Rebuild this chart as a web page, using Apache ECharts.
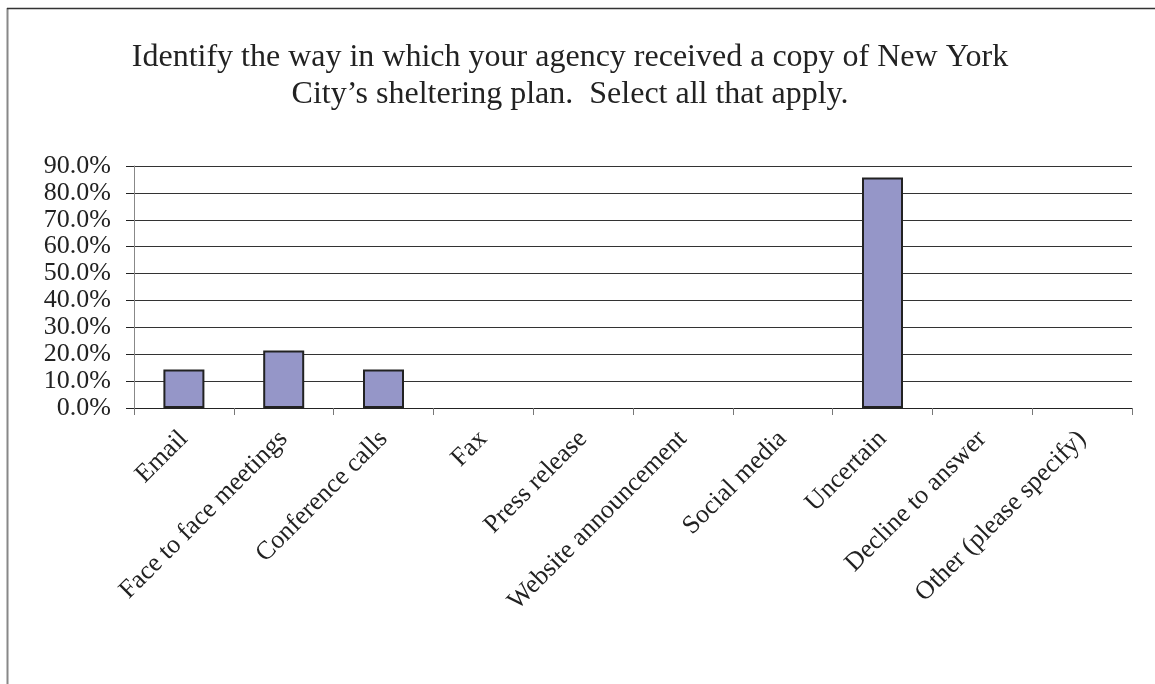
<!DOCTYPE html>
<html>
<head>
<meta charset="utf-8">
<script src="https://cdn.jsdelivr.net/npm/echarts@6/dist/echarts.min.js"></script>
<style>
html,body{margin:0;padding:0;background:#fff;}
#chart{width:1155px;height:684px;}
</style>
</head>
<body>
<div id="chart"></div>
<script>
const titleText = "Identify the way in which your agency received a copy of New York\nCity\u2019s sheltering plan.  Select all that apply.";
const categories = ["Email", "Face to face meetings", "Conference calls", "Fax", "Press release", "Website announcement", "Social media", "Uncertain", "Decline to answer", "Other (please specify)"];
const percentValues = [14.3, 21.4, 14.3, 0, 0, 0, 0, 85.7, 0, 0];
const yTicks = { min: 0, max: 90, interval: 10 };

const serif = '"Liberation Serif", "DejaVu Serif", serif';
const chart = echarts.init(document.getElementById('chart'), null, { renderer: 'canvas' });
chart.setOption({
  backgroundColor: '#ffffff',
  animation: false,
  title: {
    text: titleText,
    left: 565,
    top: 34,
    textAlign: 'center',
    textStyle: { fontFamily: serif, fontSize: 32, fontWeight: 'normal', color: '#222', lineHeight: 37 }
  },
  graphic: [
    { type: 'line', shape: { x1: 7.5, y1: 8, x2: 7.5, y2: 684 }, style: { stroke: '#888', lineWidth: 2 } },
    { type: 'line', shape: { x1: 7, y1: 8.5, x2: 1155, y2: 8.5 }, style: { stroke: '#333', lineWidth: 1.5 } }
  ],
  grid: { left: 134, right: 23, top: 166, bottom: 276, containLabel: false },
  xAxis: {
    type: 'category',
    data: categories,
    axisLine: { lineStyle: { color: '#222', width: 1 } },
    axisTick: { show: true, length: 7, interval: 0, lineStyle: { color: '#777' } },
    axisLabel: { interval: 0, rotate: 45, margin: 27, fontFamily: serif, fontSize: 26, color: '#222' }
  },
  yAxis: {
    type: 'value',
    min: yTicks.min, max: yTicks.max, interval: yTicks.interval,
    axisLine: { show: true, lineStyle: { color: '#888', width: 1 } },
    axisTick: { show: true, length: 8, lineStyle: { color: '#222' } },
    splitLine: { show: true, lineStyle: { color: '#333', width: 1 } },
    axisLabel: { margin: 23, fontFamily: serif, fontSize: 26, color: '#222', formatter: v => v.toFixed(1) + '%' }
  },
  series: [{
    type: 'bar',
    data: percentValues.map(v => (v === 0 ? '-' : v)),
    barWidth: 41,
    itemStyle: { color: '#9596C8', borderColor: '#222', borderWidth: 2 }
  }]
});
</script>
</body>
</html>
